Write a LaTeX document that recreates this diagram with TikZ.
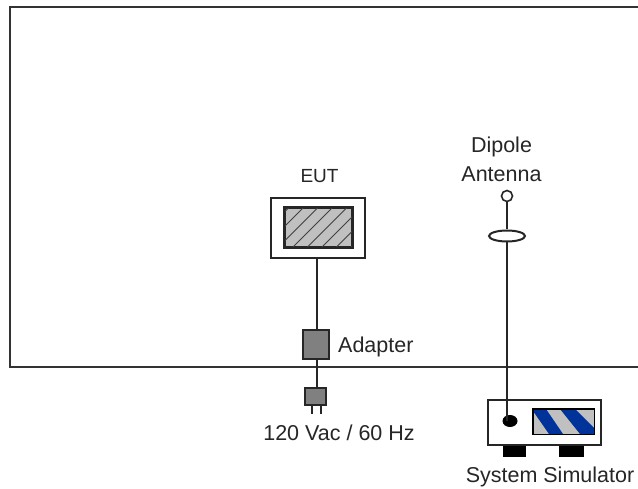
\documentclass[tikz,border=0pt]{standalone}
\usepackage{fontspec}
\usetikzlibrary{shapes.geometric}
\setmainfont{Liberation Sans}
\definecolor{hatchgray}{RGB}{192,192,192}
\definecolor{adgray}{RGB}{128,128,128}
\definecolor{stripeblue}{RGB}{0,51,153}
\tikzset{
  ln/.style={draw=black!85,line width=2pt},
  lbl/.style={font=\fontsize{21.5}{24}\selectfont,text=black!85,inner sep=0pt,text depth=0pt},
  wall/.style={draw=black!80,line width=2pt},
  blk/.style={fill=black,draw=none}
}
\begin{document}
\begin{tikzpicture}[x=1pt,y=-1pt]
\useasboundingbox[fill=white] (0,0) rectangle (638,489);
% room
\coordinate (rTR) at (638,7);
\coordinate (rTL) at (10,7);
\coordinate (rBL) at (10,367);
\coordinate (rBR) at (638,367);
\draw[wall] (rTR) -- (rTL) -- (rBL) -- (rBR);
% EUT
\node[lbl,font=\fontsize{19}{22}\selectfont] (eutlbl) at (319.5,176) {EUT};
\node[ln,fill=white,minimum width=94pt,minimum height=60pt,inner sep=0pt,anchor=north west] (eut) at (270,197) {};
\node[ln,fill=hatchgray,minimum width=67pt,minimum height=39pt,inner sep=0pt,anchor=north west] (scr) at (284,207) {};
\begin{scope}
\clip (scr.south west) rectangle (scr.north east);
\foreach \c in {482,496.5,...,612}{
  \draw[black!75,line width=1pt] (\c-207,207) -- (\c-248,248);
}
\end{scope}
\draw[ln,line width=1.7pt] (scr.south west) rectangle (scr.north east);
\node[ln,fill=adgray,minimum width=26pt,minimum height=29pt,inner sep=0pt,anchor=north west] (adapter) at (302,329) {};
\node[ln,fill=adgray,minimum width=21pt,minimum height=17pt,inner sep=0pt,anchor=north west] (plug) at (304,387) {};
\coordinate (feed) at (317,300);
\coordinate (p1b) at (312,414);
\coordinate (p2b) at (321,414);
\draw[ln,line width=1.6pt] (p1b|-plug.south) -- (p1b);
\draw[ln,line width=1.6pt] (p2b|-plug.south) -- (p2b);
\draw[ln] (feed|-eut.south) -- (feed|-adapter.north);
\draw[ln] (feed|-adapter.south) -- (feed|-plug.north);
\node[lbl,anchor=west] (adlbl) at (338,345) {Adapter};
\node[lbl] (acl) at (339,433) {120 Vac / 60 Hz};
% antenna
\node[lbl] (dip) at (501.5,145) {Dipole};
\node[lbl] (ant) at (501.5,174) {Antenna};
\node[draw=black!85,line width=1.6pt,circle,minimum size=11pt,inner sep=0pt] (tip) at (507,196) {};
\node[ellipse,draw=black!85,line width=2pt,minimum width=36pt,minimum height=11pt,inner sep=0pt] (loop) at (507,236) {};
% simulator
\node[blk,minimum width=23pt,minimum height=11pt,inner sep=0pt,anchor=north west] (foot1) at (503,446) {};
\node[blk,minimum width=25pt,minimum height=11pt,inner sep=0pt,anchor=north west] (foot2) at (559,446) {};
\node[draw=black!85,line width=1.6pt,fill=white,minimum width=113.4pt,minimum height=45.4pt,inner sep=0pt,anchor=north west] (sim) at (487,399) {};
\node[blk,ellipse,minimum width=15pt,minimum height=12pt,inner sep=0pt] (port) at (510,421) {};
\node[fill=hatchgray,draw=none,minimum width=61pt,minimum height=25pt,inner sep=0pt,anchor=north west] (simscr) at (533,409) {};
\begin{scope}
\clip (simscr.south west) rectangle (simscr.north east);
\fill[stripeblue] (533,411) -- (533,409) -- (546,409) -- (563,434) -- (549,434) -- cycle;
\fill[stripeblue] (560,409) -- (575,409) -- (594,428) -- (594,434) -- (580,434) -- cycle;
\end{scope}
\draw[black,line width=1.2pt] (simscr.south west) rectangle (simscr.north east);
\draw[ln] (tip.south) -- (loop.north);
\draw[ln] (loop.south) -- (loop.south|-port.center);
\node[lbl] (simlbl) at (550,475) {System Simulator};
\end{tikzpicture}
\end{document}
